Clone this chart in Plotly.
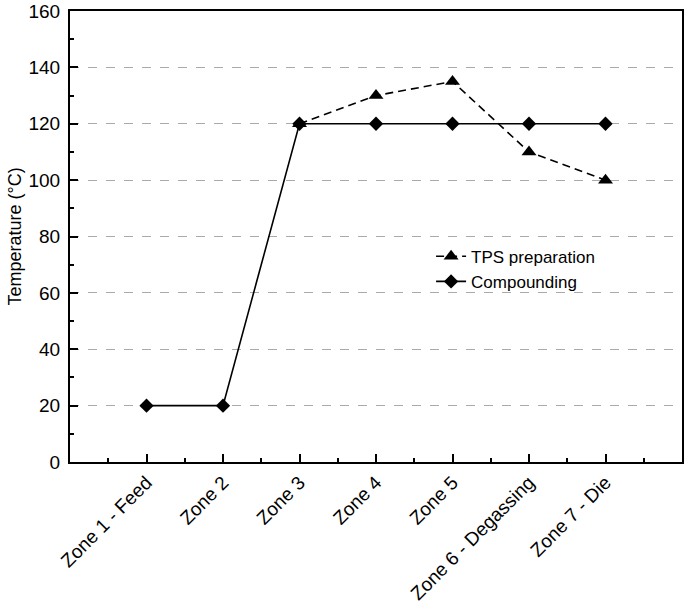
import plotly.graph_objects as go

zones = ["Zone 1 - Feed", "Zone 2", "Zone 3", "Zone 4", "Zone 5", "Zone 6 - Degassing", "Zone 7 - Die"]
tps_preparation = [None, None, 120, 130, 135, 110, 100]
compounding = [20, 20, 120, 120, 120, 120, 120]
y_ticks = [0, 20, 40, 60, 80, 100, 120, 140, 160]

xpos = list(range(len(zones)))
font = dict(family="Liberation Sans, Arial, sans-serif", size=19, color="black")

fig = go.Figure()
fig.add_trace(go.Scatter(
    x=xpos, y=compounding, name="Compounding", mode="lines+markers",
    line=dict(color="black", width=1.6),
    marker=dict(symbol="diamond", size=11, color="black"),
))
fig.add_trace(go.Scatter(
    x=xpos, y=tps_preparation, name="TPS preparation", mode="lines+markers",
    line=dict(color="black", width=1.6, dash="8px,5px"),
    marker=dict(symbol="triangle-up", size=13, color="black"),
))

fig.update_layout(
    width=685, height=613,
    margin=dict(l=70, r=3, t=11, b=151),
    paper_bgcolor="white", plot_bgcolor="white",
    font=font,
    showlegend=True,
    legend=dict(x=0.59, y=0.495, xanchor="left", yanchor="top",
                traceorder="reversed", bgcolor="rgba(0,0,0,0)",
                font=dict(size=17), itemwidth=30, tracegroupgap=0),
)
fig.update_xaxes(
    range=[-1, 7], tickmode="array", tickvals=xpos, ticktext=zones,
    tickangle=-45, ticks="inside", ticklen=8, tickwidth=1.5, tickcolor="black",
    showline=True, linecolor="black", linewidth=2, mirror=True,
    showgrid=False, zeroline=False, automargin=False,
    minor=dict(ticks="inside", ticklen=4, tickwidth=1.5, tickcolor="black",
               tickmode="array", tickvals=[-0.5, 0.5, 1.5, 2.5, 3.5, 4.5, 5.5, 6.5]),
    tickfont=font,
)
fig.update_yaxes(
    range=[0, 160], tickmode="array", tickvals=y_ticks,
    ticks="inside", ticklen=8, tickwidth=1.5, tickcolor="black",
    showline=True, linecolor="black", linewidth=2, mirror=True,
    showgrid=True, gridcolor="#aaaaaa", griddash="dash", gridwidth=1,
    zeroline=False, automargin=False, ticklabelstandoff=4,
    minor=dict(ticks="inside", ticklen=4, tickwidth=1.5, tickcolor="black",
               tickmode="array", tickvals=[10, 30, 50, 70, 90, 110, 130, 150], showgrid=False),
    title=dict(text="Temperature (°C)", font=dict(size=18), standoff=2),
    tickfont=font,
)

fig.write_html("out.html", config={"displayModeBar": False})
with open("out.html", "r", encoding="utf-8") as f:
    html = f.read()
html = html.replace("<body>", '<body style="margin:0;overflow:hidden">', 1)
with open("out.html", "w", encoding="utf-8") as f:
    f.write(html)
